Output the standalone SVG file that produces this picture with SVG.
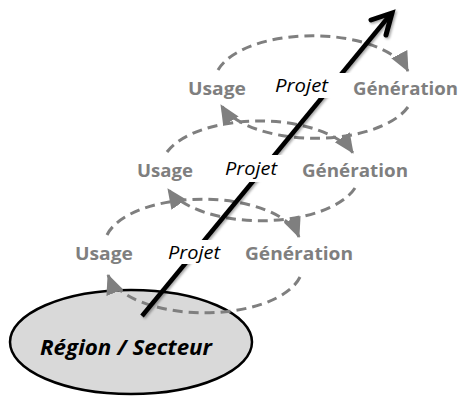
<svg xmlns="http://www.w3.org/2000/svg" width="464" height="396" viewBox="0 0 464 396">
<defs>
<style>
.lbl{font-family:"Open Sans","Liberation Sans",sans-serif;font-weight:bold;font-size:18px;fill:#7f7f7f}
.prj{font-family:"Open Sans","Liberation Sans",sans-serif;font-style:italic;font-size:18px;fill:#000}
.box{fill:#fff}
.dash{fill:none;stroke:#7f7f7f;stroke-width:3;stroke-dasharray:10 6;marker-end:url(#ah)}
</style>
<marker id="ah" markerUnits="userSpaceOnUse" markerWidth="22" markerHeight="20" refX="19" refY="9" orient="auto">
<path d="M0,0 L20,9 L0,18 Z" fill="#7f7f7f"/>
</marker>
<filter id="sh" x="-20%" y="-20%" width="140%" height="140%">
<feDropShadow dx="1.5" dy="1.5" stdDeviation="1.2" flood-color="#000" flood-opacity="0.35"/>
</filter>
</defs>
<g id="region">
<ellipse cx="131" cy="342" rx="121" ry="52" fill="#d9d9d9" stroke="#000" stroke-width="2.5"/>
<text x="126" y="355" text-anchor="middle" textLength="172" lengthAdjust="spacingAndGlyphs" style="font-family:'Open Sans','Liberation Sans',sans-serif;font-weight:bold;font-style:italic;font-size:21px;fill:#000">Région / Secteur</text>
</g>
<g id="connectors">
<g transform="translate(313,88)">
<path class="dash" d="M-95,-18 A98 46 0 0 1 95,-17"/>
<path class="dash" d="M95,19 A98 46 0 0 1 -92,17"/>
</g>
<g transform="translate(260,170)">
<path class="dash" d="M-93,-18 A98 46 0 0 1 93,-17"/>
<path class="dash" d="M95,18 A98 46 0 0 1 -92,19"/>
</g>
<g transform="translate(205,255)">
<path class="dash" d="M-98,-20 A98 46 0 0 1 94,-18"/>
<path class="dash" d="M95,22 A98 46 0 0 1 -97,20"/>
</g>
<g id="main-arrow" filter="url(#sh)" stroke="#000" fill="none" stroke-width="4.5">
<line x1="142" y1="316" x2="390" y2="15"/>
<polyline points="371,20 392,13 386,35" stroke-width="5" stroke-linejoin="miter" stroke-linecap="round"/>
</g>
</g>
<g id="projet1"><rect class="box" x="272" y="73" width="80" height="25"/><text class="prj" x="275" y="92" textLength="53" lengthAdjust="spacingAndGlyphs">Projet</text></g>
<g id="projet2"><rect class="box" x="223" y="155" width="65" height="27"/><text class="prj" x="225" y="175" textLength="52" lengthAdjust="spacingAndGlyphs">Projet</text></g>
<g id="projet3"><rect class="box" x="167" y="240" width="55" height="24"/><text class="prj" x="168" y="259" textLength="52" lengthAdjust="spacingAndGlyphs">Projet</text></g>
<g id="usage1"><text class="lbl" x="188" y="95" textLength="58" lengthAdjust="spacingAndGlyphs">Usage</text></g>
<g id="gen1"><text class="lbl" x="353" y="95" textLength="105" lengthAdjust="spacingAndGlyphs">Génération</text></g>
<g id="usage2"><text class="lbl" x="137" y="177" textLength="56" lengthAdjust="spacingAndGlyphs">Usage</text></g>
<g id="gen2"><text class="lbl" x="302" y="177" textLength="106" lengthAdjust="spacingAndGlyphs">Génération</text></g>
<g id="usage3"><text class="lbl" x="75" y="260" textLength="58" lengthAdjust="spacingAndGlyphs">Usage</text></g>
<g id="gen3"><text class="lbl" x="245" y="260" textLength="108" lengthAdjust="spacingAndGlyphs">Génération</text></g>
</svg>
